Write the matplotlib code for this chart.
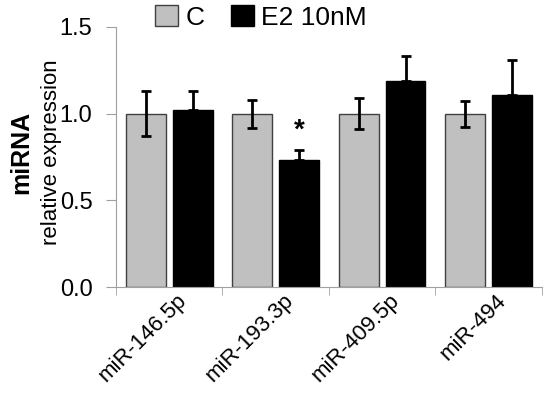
import matplotlib
matplotlib.use('Agg')
from matplotlib import pyplot as plt
from matplotlib.transforms import ScaledTranslation
import numpy as np

genes = ['miR-146.5p', 'miR-193.3p', 'miR-409.5p', 'miR-494']
ctrl = [1.0, 1.0, 1.0, 1.0]
ctrl_err = [0.13, 0.08, 0.09, 0.075]
e2 = [1.02, 0.73, 1.19, 1.11]
e2_err = [0.11, 0.06, 0.14, 0.20]
labels = ['C', 'E2 10nM']

plt.rcParams['font.family'] = ['Liberation Sans', 'DejaVu Sans']

fig = plt.figure(figsize=(5.5, 3.95), dpi=100)
ax = fig.add_axes([0.211, 0.273, 0.774, 0.659])

x = np.arange(len(genes))
w = 0.375
b1 = ax.bar(x - 0.22, ctrl, w, color='#c0c0c0', edgecolor='#404040', linewidth=1,
            yerr=ctrl_err, error_kw=dict(ecolor='black', elinewidth=2, capsize=3.5, capthick=2),
            label=labels[0], zorder=2)
b2 = ax.bar(x + 0.22, e2, w, color='black', edgecolor='black', linewidth=1,
            yerr=[np.zeros(len(e2)), e2_err],
            error_kw=dict(ecolor='black', elinewidth=2, capsize=3.5, capthick=2),
            label=labels[1], zorder=2)

# significance mark
ax.text(x[1] + 0.22, e2[1] + e2_err[1] + 0.04, '*', ha='center', va='bottom',
        fontsize=20, fontweight='bold')

ax.set_xlim(-0.5, len(genes) - 0.5)
ax.set_ylim(0, 1.5)
ax.set_yticks([0, 0.5, 1.0, 1.5])
ax.set_yticklabels(['0.0', '0.5', '1.0', '1.5'], fontsize=17)
ax.set_xticks(x)
ax.set_xticklabels(genes, rotation=45, ha='right', rotation_mode='anchor', fontsize=16)
ax.tick_params(axis='x', which='major', length=0, pad=2)
for lab in ax.get_xticklabels():
    lab.set_transform(lab.get_transform() + ScaledTranslation(0.07, 0, fig.dpi_scale_trans))
ax.set_xticks(np.arange(-0.5, len(genes)), minor=True)
ax.tick_params(axis='x', which='minor', length=6, color='#a0a0a0')
ax.tick_params(axis='y', length=7, color='#a0a0a0', pad=10)

for s in ['top', 'right']:
    ax.spines[s].set_visible(False)
for s in ['left', 'bottom']:
    ax.spines[s].set_color('#a0a0a0')

fig.text(0.038, 0.615, 'miRNA', rotation=90, ha='center', va='center',
         fontsize=18, fontweight='bold')
fig.text(0.093, 0.615, 'relative expression', rotation=90, ha='center', va='center',
         fontsize=16)

fig.legend(handles=[b1, b2], labels=labels, loc='center', ncol=2,
           bbox_to_anchor=(0.475, 0.955), frameon=False, fontsize=19,
           handlelength=0.85, handleheight=0.85, handletextpad=0.3,
           columnspacing=1.0)

fig.savefig('out.png', dpi=100)
